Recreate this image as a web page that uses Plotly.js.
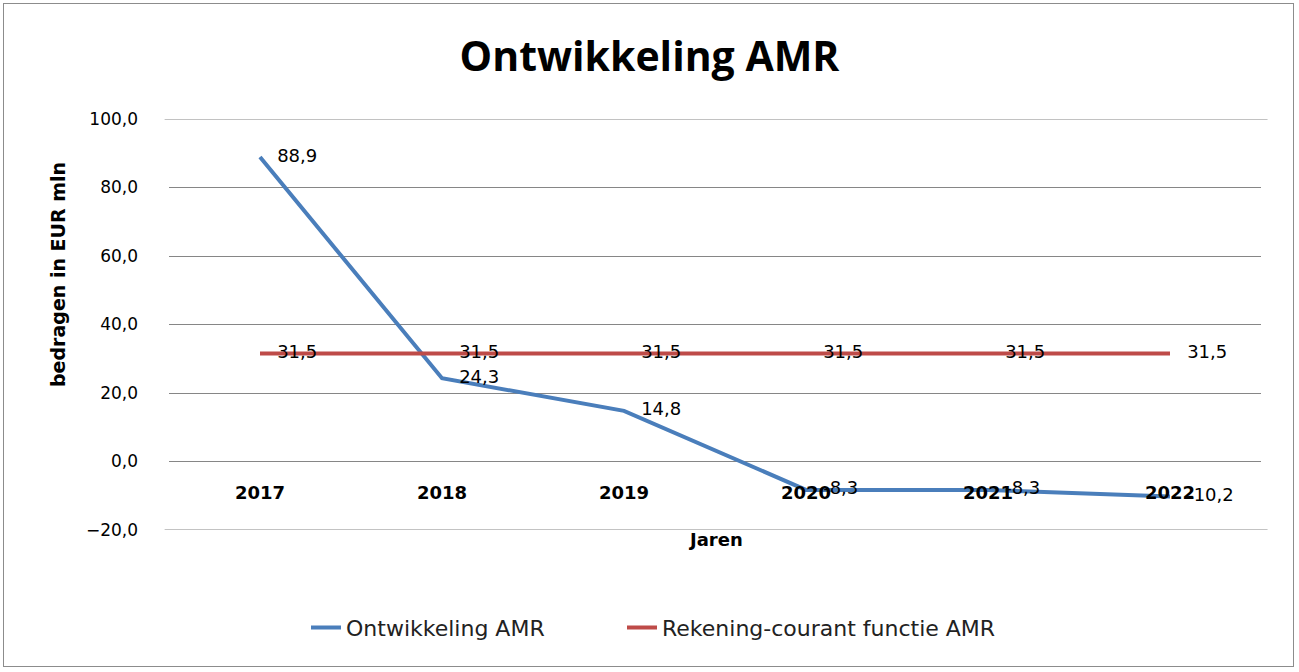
<!DOCTYPE html>
<html>
<head>
<meta charset="utf-8">
<script src="https://cdn.plot.ly/plotly-3.0.1.min.js"></script>
<style>
  html, body { margin: 0; padding: 0; background: #fff; }
  #frame { position: absolute; left: 3px; top: 3px; width: 1291px; height: 664px; border: 1px solid #8c8c8c; box-sizing: border-box; pointer-events: none; z-index: 5; }
  #chart { width: 1299px; height: 672px; }
</style>
</head>
<body>
<div id="frame"></div>
<div id="chart"></div>
<script>
const years = ['2017', '2018', '2019', '2020', '2021', '2022'];
const ontwikkelingAMR = [88.9, 24.3, 14.8, -8.3, -8.3, -10.2];
const rekeningCourant = [31.5, 31.5, 31.5, 31.5, 31.5, 31.5];
const yTicks = [-20, 0, 20, 40, 60, 80, 100];

const F = 'DejaVu Sans, Verdana, sans-serif';
const labelFont = { family: F, size: 18, color: '#000' };
const gridColor = '#868686';

const traces = [
  {
    x: years, y: ontwikkelingAMR, name: 'Ontwikkeling AMR', type: 'scatter',
    mode: 'lines+text', line: { color: '#4a7ebb', width: 4 },
    texttemplate: '   %{y:.1f}',
    textposition: 'middle right', textfont: labelFont, cliponaxis: false,
    legend: 'legend'
  },
  {
    x: years, y: rekeningCourant, name: 'Rekening-courant functie AMR', type: 'scatter',
    mode: 'lines+text', line: { color: '#be4b48', width: 4 },
    texttemplate: '   %{y:.1f}',
    textposition: 'middle right', textfont: labelFont, cliponaxis: false,
    legend: 'legend2'
  }
];

// gridlines at the range ends (Plotly hides those at the plot edges)
const edgeGrid = [Math.min(...yTicks), Math.max(...yTicks)].map(v => ({
  type: 'line', xref: 'paper', yref: 'y', x0: -0.004, x1: 1.006, y0: v, y1: v,
  line: { color: gridColor, width: 1 }, layer: 'below'
}));

const legendBase = {
  orientation: 'h', xanchor: 'left', y: -0.238, yanchor: 'middle',
  font: { family: F, size: 22, color: '#222' }, bgcolor: 'rgba(0,0,0,0)'
};

const layout = {
  width: 1299, height: 672,
  separators: ',.',
  paper_bgcolor: '#fff', plot_bgcolor: '#fff',
  margin: { l: 169, r: 38, t: 119, b: 142 },
  title: {
    text: '<b>Ontwikkeling AMR</b>',
    font: { family: 'Open Sans, sans-serif', size: 41, color: '#000' },
    x: 0.5, xref: 'container', y: 1 - 57 / 672, yref: 'container', yanchor: 'middle'
  },
  xaxis: {
    type: 'category', range: [-0.5, 5.5],
    anchor: 'free', position: 20 / 120,
    showgrid: false, showline: false, zeroline: false, ticks: '',
    ticklabelstandoff: 18,
    tickfont: { family: F, size: 18, color: '#000', weight: 'bold' }
  },
  yaxis: {
    range: [-20, 100], tickvals: yTicks, tickformat: '.1f',
    showgrid: true, gridcolor: gridColor, gridwidth: 1,
    zeroline: false, showline: false, ticks: '',
    ticklabelstandoff: 30,
    tickfont: { family: F, size: 17, color: '#000' }
  },
  shapes: edgeGrid,
  showlegend: true,
  legend: Object.assign({}, legendBase, { x: (306 - 169) / 1092 }),
  legend2: Object.assign({}, legendBase, { x: (622 - 169) / 1092 }),
  annotations: [
    {
      text: '<b>bedragen in EUR mln</b>', xref: 'paper', yref: 'paper',
      x: (45 - 169) / 1092, y: (530 - 275) / 411, textangle: -90,
      showarrow: false, font: { family: F, size: 19, color: '#000' }
    },
    {
      text: '<b>Jaren</b>', xref: 'paper', yref: 'paper',
      x: (715 - 169) / 1092, y: (530 - 552) / 411,
      showarrow: false, font: { family: F, size: 18, color: '#000' }
    }
  ]
};

Plotly.newPlot('chart', traces, layout, { displayModeBar: false, staticPlot: true });
</script>
</body>
</html>
